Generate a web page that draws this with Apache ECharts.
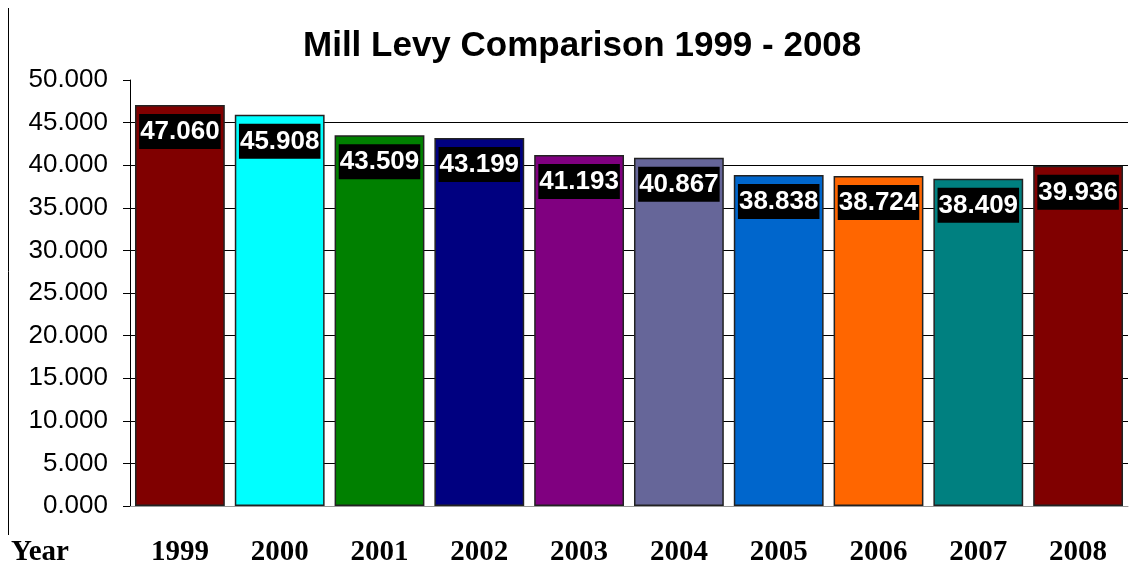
<!DOCTYPE html>
<html><head><meta charset="utf-8">
<script src="https://cdn.jsdelivr.net/npm/echarts@6/dist/echarts.min.js"></script>
<style>html,body{margin:0;padding:0;background:#fff}#c{width:1134px;height:567px}</style>
</head><body><div id="c"></div>
<script>
const years = ['1999','2000','2001','2002','2003','2004','2005','2006','2007','2008'];
const levy = [47.060, 45.908, 43.509, 43.199, 41.193, 40.867, 38.838, 38.724, 38.409, 39.936];
const barColors = ['#800000','#00FFFF','#008000','#000080','#800080','#666699','#0066CC','#FF6600','#008080','#800000'];
const chart = echarts.init(document.getElementById('c'));
chart.setOption({
  animation: false,
  backgroundColor: '#fff',
  title: {
    text: 'Mill Levy Comparison 1999 - 2008',
    left: 298, top: 24,
    textStyle: {fontFamily: 'Arial, Liberation Sans', fontWeight: 'bold', fontSize: 35, color: '#000'}
  },
  grid: {left: 130, right: 6, top: 80, bottom: 60, containLabel: false},
  graphic: [
    {type: 'line', shape: {x1: 8.5, y1: 8, x2: 8.5, y2: 535}, style: {stroke: '#000', lineWidth: 1}},
    {type: 'text', left: 11, top: 538, style: {text: 'Year', fontFamily: 'Times New Roman, Liberation Serif', fontWeight: 'bold', fontSize: 29, fill: '#000'}}
  ],
  xAxis: {
    type: 'category', data: years,
    axisLine: {show: true, lineStyle: {color: '#999', width: 1}},
    axisTick: {show: false},
    axisLabel: {margin: 32, fontFamily: 'Times New Roman, Liberation Serif', fontWeight: 'bold', fontSize: 29, color: '#000'}
  },
  yAxis: {
    type: 'value', min: 0, max: 50, interval: 5,
    axisLine: {show: true, lineStyle: {color: '#000', width: 1}},
    axisTick: {show: true, length: 7, lineStyle: {color: '#000'}},
    axisLabel: {margin: 22, fontFamily: 'Arial, Liberation Sans', fontSize: 26, color: '#000',
      formatter: v => v.toFixed(3)},
    splitLine: {show: true, showMaxLine: false, showMinLine: false, lineStyle: {color: '#000', width: 1}}
  },
  series: [{
    type: 'bar',
    barCategoryGap: '10%',
    data: levy.map((v, i) => ({value: v, itemStyle: {color: barColors[i]}})),
    itemStyle: {borderColor: '#222', borderWidth: 1.5},
    label: {
      show: true, position: 'insideTop', distance: 9,
      formatter: p => p.value.toFixed(3),
      backgroundColor: '#000', color: '#fff',
      fontFamily: 'Arial, Liberation Sans', fontWeight: 'bold', fontSize: 26,
      padding: [5, 1, 4, 1], lineHeight: 26
    }
  }]
});
</script></body></html>
